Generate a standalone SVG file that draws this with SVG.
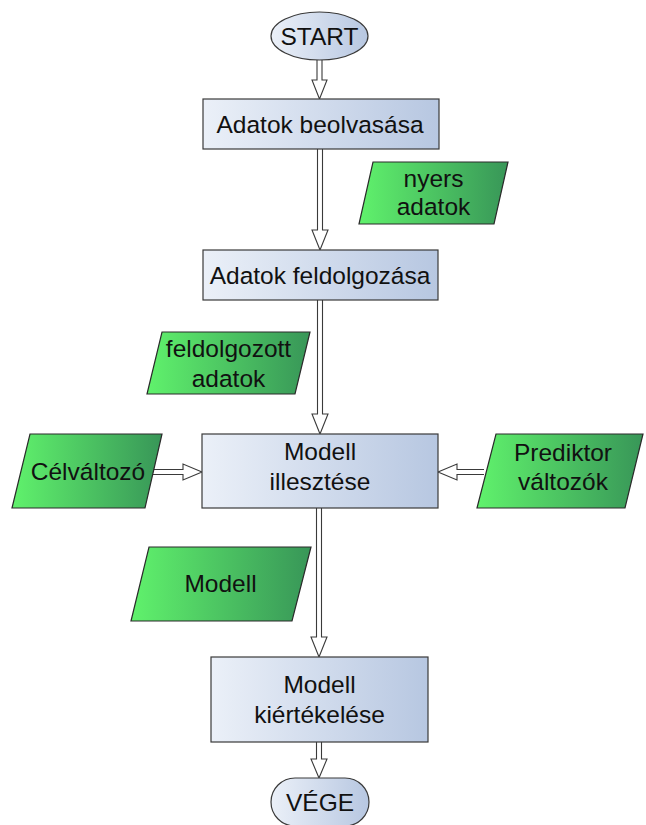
<svg xmlns="http://www.w3.org/2000/svg" width="646" height="825" viewBox="0 0 646 825">
<defs>
<linearGradient id="gBox" x1="0" y1="0" x2="1" y2="0">
<stop offset="0" stop-color="#ebf0f8"/><stop offset="1" stop-color="#b7c7e1"/>
</linearGradient>
<linearGradient id="gGreen" x1="0" y1="0" x2="1" y2="0">
<stop offset="0" stop-color="#60f26c"/><stop offset="1" stop-color="#389658"/>
</linearGradient>
<style>
.box{fill:url(#gBox);stroke:#3a3a3a;stroke-width:1.2}
.io{fill:url(#gGreen);stroke:#2a2a2a;stroke-width:1.2}
.t{font-family:"Liberation Sans",Arial,sans-serif;font-size:24.5px;fill:#111111;text-anchor:middle}
.arr{fill:#ffffff;stroke:#3a3a3a;stroke-width:1.1;stroke-linejoin:miter}
</style>
</defs>
<rect width="646" height="825" fill="#ffffff"/>
<g id="connectors">
<path class="arr" d="M317,60 V80 H312 L319.5,99 L327,80 H322 V60"/>
<path class="arr" d="M317.5,149 V230 H312 L320,250 L328,230 H322.5 V149"/>
<path class="arr" d="M317.5,300 V414 H312 L320,434 L328,414 H322.5 V300"/>
<path class="arr" d="M316.5,508 V637 H311 L319,657 L327,637 H321.5 V508"/>
<path class="arr" d="M316.5,742 V759 H311 L319,778 L327,759 H321.5 V742"/>
<path class="arr" d="M150,469.5 H183 V464 L202,472 L183,480 V474.5 H150"/>
<path class="arr" d="M484,469.5 H457 V464 L438,472 L457,480 V474.5 H484"/>
</g>
<g id="start">
<ellipse class="box" cx="319.5" cy="36" rx="48.5" ry="24"/>
<text class="t" x="319.5" y="44.5">START</text>
</g>
<g id="adatok-beolvasasa">
<rect class="box" x="203" y="99" width="236" height="50"/>
<text class="t" x="320" y="133">Adatok beolvasása</text>
</g>
<g id="nyers-adatok">
<polygon class="io" points="373,162 508,162 494,224 359,224"/>
<text class="t" x="433.5" y="187">nyers</text>
<text class="t" x="433.5" y="215">adatok</text>
</g>
<g id="adatok-feldolgozasa">
<rect class="box" x="203" y="250" width="235" height="50"/>
<text class="t" x="320" y="284">Adatok feldolgozása</text>
</g>
<g id="feldolgozott-adatok">
<polygon class="io" points="162,332 310,332 295,394 147,394"/>
<text class="t" x="228.5" y="357">feldolgozott</text>
<text class="t" x="228.5" y="387">adatok</text>
</g>
<g id="celvaltozo">
<polygon class="io" points="30,434 162,434 145,508 12,508"/>
<text class="t" x="88" y="480">Célváltozó</text>
</g>
<g id="modell-illesztese">
<rect class="box" x="202" y="434" width="236" height="74"/>
<text class="t" x="320" y="460">Modell</text>
<text class="t" x="320" y="490">illesztése</text>
</g>
<g id="prediktor-valtozok">
<polygon class="io" points="496,434 643,434 625,508 477,508"/>
<text class="t" x="563" y="461">Prediktor</text>
<text class="t" x="563" y="490">változók</text>
</g>
<g id="modell">
<polygon class="io" points="149,547 311,547 292,621 131,621"/>
<text class="t" x="220.5" y="592">Modell</text>
</g>
<g id="modell-kiertekelese">
<rect class="box" x="211" y="657" width="217" height="85"/>
<text class="t" x="319.5" y="693">Modell</text>
<text class="t" x="319.5" y="723">kiértékelése</text>
</g>
<g id="vege">
<rect class="box" x="271" y="778" width="98" height="48" rx="24" ry="24"/>
<text class="t" x="320" y="811">VÉGE</text>
</g>
</svg>
